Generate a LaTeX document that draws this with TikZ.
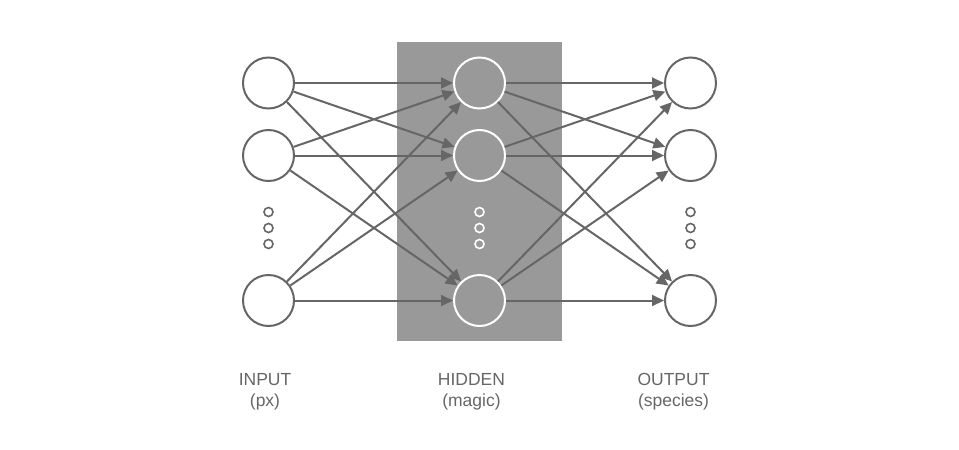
\documentclass[tikz,border=0pt]{standalone}
\usepackage{fontspec}
\setmainfont{Liberation Sans}
\usetikzlibrary{arrows.meta}
\definecolor{lc}{HTML}{666666}
\definecolor{bg}{HTML}{999999}
\tikzset{
  neuron/.style={circle, draw=lc, line width=2pt, minimum size=51pt, inner sep=0pt, fill=white},
  hneuron/.style={circle, draw=white, line width=2pt, minimum size=51pt, inner sep=0pt},
  dot/.style={circle, draw=lc, line width=1.6pt, minimum size=9pt, inner sep=0pt},
  hdot/.style={circle, draw=white, line width=1.6pt, minimum size=9pt, inner sep=0pt},
  conn/.style={draw=lc, line width=2pt, -{Triangle[length=12pt,width=11pt]}},
  lbl/.style={text=lc, font=\fontsize{17.5}{21}\selectfont, align=center, anchor=base}
}
\begin{document}
\begin{tikzpicture}[x=1pt,y=-1pt]
\useasboundingbox (0,0) rectangle (959,450);
\fill[bg] (397,42) rectangle (562,341);
\node[neuron] (i1) at (268.5,83) {};
\node[neuron] (i2) at (268.5,155.5) {};
\node[neuron] (i3) at (268.5,300.5) {};
\node[hneuron] (h1) at (479.5,83) {};
\node[hneuron] (h2) at (479.5,155.5) {};
\node[hneuron] (h3) at (479.5,300.5) {};
\node[neuron] (o1) at (690.5,83) {};
\node[neuron] (o2) at (690.5,155.5) {};
\node[neuron] (o3) at (690.5,300.5) {};
\node[dot] (di1) at (268.5,212) {};
\node[dot] (di2) at (268.5,228) {};
\node[dot] (di3) at (268.5,244) {};
\node[hdot] (dh1) at (479.5,212) {};
\node[hdot] (dh2) at (479.5,228) {};
\node[hdot] (dh3) at (479.5,244) {};
\node[dot] (do1) at (690.5,212) {};
\node[dot] (do2) at (690.5,228) {};
\node[dot] (do3) at (690.5,244) {};
\foreach \a in {i1,i2,i3}{\foreach \b in {h1,h2,h3}{\draw[conn] (\a) -- (\b);}}
\foreach \a in {h1,h2,h3}{\foreach \b in {o1,o2,o3}{\draw[conn] (\a) -- (\b);}}
\node[lbl] (li) at (265,406) {INPUT\\(px)};
\node[lbl] (lh) at (471.5,406) {HIDDEN\\(magic)};
\node[lbl] (lo) at (673.5,406) {OUTPUT\\(species)};
\end{tikzpicture}
\end{document}
